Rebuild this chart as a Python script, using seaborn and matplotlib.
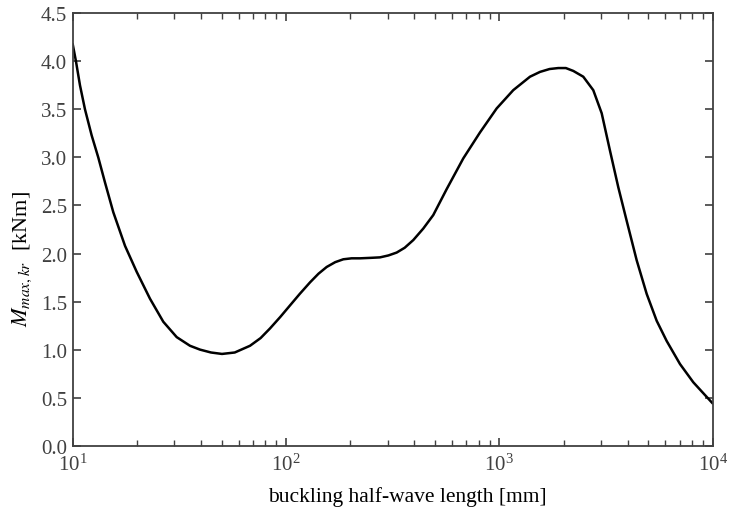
import numpy as np
import pandas as pd
import matplotlib
matplotlib.use("Agg")
import matplotlib.pyplot as plt
import seaborn as sns
from matplotlib.ticker import LogLocator, FixedLocator, FormatStrFormatter

half_wave_length = [10.0, 10.36, 10.82, 11.42, 12.27, 13.18, 14.17, 15.50, 17.59, 19.95,
                    23.03, 26.59, 30.73, 35.47, 39.52, 44.5, 50.1, 57.5, 67.8, 76.0,
                    84.1, 94.0, 104.4, 116.0, 129.6, 142.0, 155.1, 170.0, 185.6, 203.0,
                    222.3, 250.0, 275.8, 302.0, 330.2, 360.0, 395.0, 440.0, 490.0, 566.3,
                    677.6, 811.4, 971.6, 1162, 1392, 1551, 1720, 1889, 2050, 2222,
                    2474, 2756, 3018, 3301, 3610, 3953, 4403, 4905, 5464, 6086,
                    7027, 8113, 10000]
moment = [4.18, 4.00, 3.75, 3.50, 3.23, 3.00, 2.74, 2.43, 2.08, 1.81,
          1.53, 1.29, 1.13, 1.04, 1.00, 0.97, 0.955, 0.97, 1.04, 1.12,
          1.22, 1.34, 1.46, 1.58, 1.70, 1.79, 1.86, 1.91, 1.94, 1.95,
          1.95, 1.955, 1.96, 1.98, 2.01, 2.06, 2.14, 2.26, 2.40, 2.67,
          2.99, 3.26, 3.51, 3.70, 3.84, 3.89, 3.92, 3.93, 3.93, 3.90,
          3.84, 3.70, 3.46, 3.07, 2.69, 2.34, 1.93, 1.58, 1.30, 1.09,
          0.85, 0.66, 0.44]

y_ticks = [0.0, 0.5, 1.0, 1.5, 2.0, 2.5, 3.0, 3.5, 4.0, 4.5]
x_label = "buckling half-wave length [mm]"
y_label = r"$M_{max,kr}$  [kNm]"

df = pd.DataFrame({"L": half_wave_length, "M": moment})

sns.set_style("ticks")
plt.rcParams["font.family"] = ["Liberation Serif", "DejaVu Serif"]
plt.rcParams["mathtext.fontset"] = "stix"
axis_color = "#404040"

fig = plt.figure(figsize=(7.32, 5.10), dpi=100)
ax = fig.add_axes([0.0993, 0.1241, 0.9736 - 0.0993, 0.972 - 0.1241])

sns.lineplot(data=df, x="L", y="M", ax=ax, color="black", linewidth=1.8, sort=False)
for line in ax.get_lines():
    line.set_solid_joinstyle("round")

ax.set_xscale("log")
ax.set_xlim(10, 10000)
ax.set_ylim(0, 4.5)
ax.yaxis.set_major_locator(FixedLocator(y_ticks))
ax.yaxis.set_major_formatter(FormatStrFormatter("%.1f"))
ax.xaxis.set_major_locator(LogLocator(base=10, numticks=10))
ax.xaxis.set_minor_locator(LogLocator(base=10, subs=np.arange(2, 10), numticks=20))

for s in ax.spines.values():
    s.set_color(axis_color)
    s.set_linewidth(1.3)

ax.tick_params(axis="both", which="both", direction="in", top=True, right=True,
               color=axis_color, labelcolor=axis_color, labelsize=15)
ax.tick_params(axis="both", which="major", length=6, width=1.2, pad=4)
ax.tick_params(axis="x", which="minor", length=4, width=1.0)
ax.tick_params(axis="y", which="minor", left=False, right=False)
ax.tick_params(axis="x", which="major", pad=6)

ax.set_xlabel(x_label, fontsize=15.5, color="black")
ax.set_ylabel(y_label, fontsize=16, color="black")
ax.xaxis.set_label_coords(0.523, -0.094)
ax.yaxis.set_label_coords(-0.061, 0.434)

fig.savefig("out.png", dpi=100)
